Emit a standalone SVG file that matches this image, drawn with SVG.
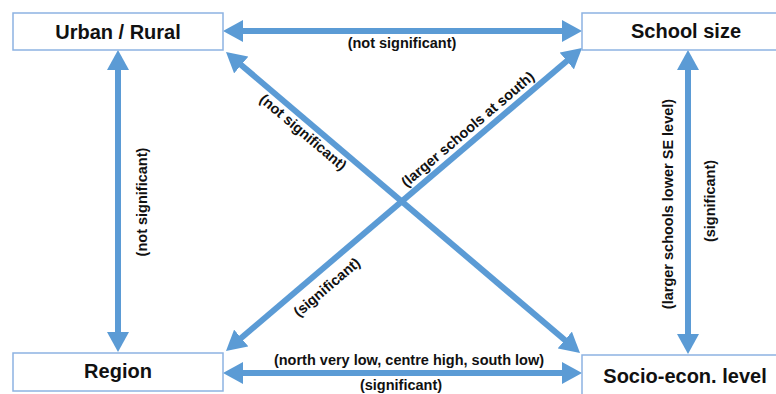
<svg xmlns="http://www.w3.org/2000/svg" width="776" height="394" viewBox="0 0 776 394">
  <style>
    .box { fill: #ffffff; stroke: #8db3e2; stroke-width: 1.5; }
    .title { font-family: "Liberation Sans", Arial, sans-serif; font-weight: bold; font-size: 20px; fill: #111111; text-anchor: middle; }
    .lbl { font-family: "Liberation Sans", Arial, sans-serif; font-weight: bold; font-size: 14.5px; fill: #111111; text-anchor: middle; }
    .conn { stroke: #5b9bd5; stroke-width: 6; fill: none; marker-start: url(#ah); marker-end: url(#ah); }
  </style>
  <defs>
    <marker id="ah" markerUnits="userSpaceOnUse" markerWidth="20" markerHeight="22" refX="2" refY="11" orient="auto-start-reverse" viewBox="0 0 20 22">
      <path d="M0,0 L20,11 L0,22 Z" fill="#5b9bd5"/>
    </marker>
  </defs>

  <g id="connectors">
    <line class="conn" x1="241" y1="31" x2="564" y2="31"/>
    <line class="conn" x1="241" y1="373" x2="564" y2="373"/>
    <line class="conn" x1="118" y1="68" x2="118" y2="334"/>
    <line class="conn" x1="688" y1="68" x2="688" y2="336"/>
    <line class="conn" x1="239.7" y1="63.7" x2="566.3" y2="341.3"/>
    <line class="conn" x1="239.7" y1="339.3" x2="568.3" y2="59.7"/>
  </g>

  <g id="labels">
    <text class="lbl" x="402" y="48">(not significant)</text>
    <text class="lbl" x="409" y="365">(north very low, centre high, south low)</text>
    <text class="lbl" x="401" y="390">(significant)</text>
    <text class="lbl" transform="translate(147,202) rotate(-90)">(not significant)</text>
    <text class="lbl" transform="translate(673,204) rotate(-90)">(larger schools lower SE level)</text>
    <text class="lbl" transform="translate(715,201) rotate(-90)">(significant)</text>
    <text class="lbl" transform="translate(300,136) rotate(40.4)">(not significant)</text>
    <text class="lbl" transform="translate(471,133) rotate(-40.4)">(larger schools at south)</text>
    <text class="lbl" transform="translate(330,291) rotate(-40.4)">(significant)</text>
  </g>

  <g id="urban-rural">
    <rect class="box" x="13" y="13" width="210" height="37"/>
    <text class="title" x="118" y="39">Urban / Rural</text>
  </g>
  <g id="school-size">
    <rect class="box" x="582" y="13" width="210" height="37"/>
    <text class="title" x="686" y="38">School size</text>
  </g>
  <g id="region">
    <rect class="box" x="13" y="353" width="210" height="38"/>
    <text class="title" x="118" y="378">Region</text>
  </g>
  <g id="socio-econ">
    <rect class="box" x="582" y="355" width="210" height="42"/>
    <text class="title" x="685" y="383">Socio-econ. level</text>
  </g>
</svg>
